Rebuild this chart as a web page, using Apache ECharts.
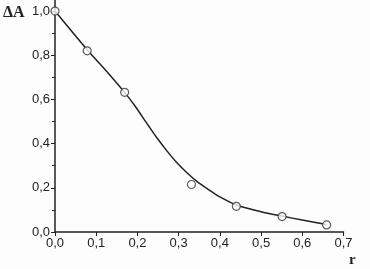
<!DOCTYPE html>
<html><head><meta charset="utf-8">
<script src="https://cdn.jsdelivr.net/npm/echarts@6/dist/echarts.min.js"></script>
<style>html,body{margin:0;padding:0;background:#fdfdfd}#c{width:370px;height:269px}</style>
</head><body><div id="c"></div>
<script>
// measured points
const pointR = [0.0, 0.078, 0.169, 0.331, 0.44, 0.551, 0.659];
const pointA = [1.0, 0.82, 0.632, 0.215, 0.116, 0.07, 0.032];
// fitted curve
const curveR = [0.0, 0.078, 0.125, 0.169, 0.195, 0.222, 0.248, 0.272, 0.296, 0.32, 0.345, 0.37, 0.395, 0.44, 0.5, 0.551, 0.6, 0.659];
const curveA = [1.0, 0.825, 0.728, 0.632, 0.568, 0.494, 0.424, 0.366, 0.313, 0.268, 0.228, 0.195, 0.164, 0.122, 0.092, 0.072, 0.054, 0.034];
const yMajor = [0, 0.2, 0.4, 0.6, 0.8, 1.0];
const yMinor = [0.1, 0.3, 0.5, 0.7, 0.9];

const fmt = v => v.toFixed(1).replace('.', ',');
const col = '#222';
const chart = echarts.init(document.getElementById('c'));
chart.setOption({
  backgroundColor: '#fdfdfd',
  animation: false,
  grid: {left: 55, right: 26.5, top: 0, bottom: 37},
  xAxis: {
    type: 'value', min: 0, max: 0.7, interval: 0.1,
    axisLine: {lineStyle: {color: col, width: 1.5}},
    axisTick: {show: true, length: 4, lineStyle: {color: col}},
    axisLabel: {color: col, fontFamily: 'Liberation Sans, Arial', fontSize: 13, margin: 5, formatter: fmt},
    splitLine: {show: false}
  },
  yAxis: [{
    type: 'value', min: 0, max: 1.05,
    axisLine: {show: true, lineStyle: {color: col, width: 1.5}},
    axisTick: {show: true, length: 4, customValues: yMajor, lineStyle: {color: col}},
    axisLabel: {color: col, fontFamily: 'Liberation Sans, Arial', fontSize: 13, margin: 5, customValues: yMajor, formatter: fmt},
    splitLine: {show: false}
  }, {
    type: 'value', min: 0, max: 1.05, position: 'left',
    axisLine: {show: false},
    axisTick: {show: true, length: 3, customValues: yMinor, lineStyle: {color: col}},
    axisLabel: {show: false},
    splitLine: {show: false}
  }],
  series: [{
    type: 'line', smooth: 0.3, showSymbol: false,
    data: curveR.map((r, i) => [r, curveA[i]]),
    lineStyle: {color: col, width: 1.5}, z: 2
  }, {
    type: 'scatter', symbol: 'circle', symbolSize: 8,
    data: pointR.map((r, i) => [r, pointA[i]]),
    itemStyle: {color: '#fff', borderColor: '#333', borderWidth: 1.2}, z: 3
  }],
  graphic: [
    {type: 'text', left: 3, top: 5, style: {text: 'ΔA', font: 'bold 16px "Liberation Serif", "Times New Roman", serif', fill: col}},
    {type: 'text', left: 349, top: 253, style: {text: 'r', font: 'bold 15px "Liberation Serif", "Times New Roman", serif', fill: col}}
  ]
});
</script></body></html>
